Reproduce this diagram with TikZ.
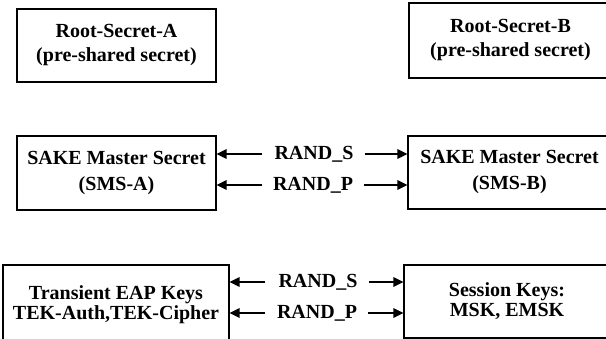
\documentclass[tikz,border=0pt]{standalone}
\usepackage{fontspec}
\setmainfont{Liberation Serif}
\usetikzlibrary{arrows.meta}
\begin{document}
\begin{tikzpicture}[x=1pt,y=-1pt,
  box/.style={draw,line width=1.1pt,rectangle,inner sep=0pt,align=center,
    font=\fontsize{20}{24}\selectfont\bfseries},
  lab/.style={inner sep=0pt,font=\fontsize{20}{22}\selectfont\bfseries},
  arr/.style={line width=1.2pt,-{Triangle[length=10pt,width=9.5pt]}}]
\useasboundingbox (0,0) rectangle (606,339);
\node[box,minimum width=199pt,minimum height=73pt] (rootA) at (116.5,45.5)
  {Root-Secret-A\\(pre-shared secret)};
\node[box,minimum width=203pt,minimum height=75pt] (rootB) at (510.5,40.5)
  {Root-Secret-B\\(pre-shared secret)};
\node[box,minimum width=199pt,minimum height=74pt] (smsA) at (116.5,173)
  {SAKE Master Secret\\[2pt](SMS-A)};
\node[box,minimum width=203pt,minimum height=73pt] (smsB) at (509.5,172.5)
  {SAKE Master Secret\\[2pt](SMS-B)};
\node[box,minimum width=226pt,minimum height=80pt] (tekA) at (116,305)
  {Transient EAP Keys\\[-4pt]TEK-Auth,TEK-Cipher};
\node[box,minimum width=206pt,minimum height=73pt] (sess) at (507,301.5)
  {Session Keys:\\[-4pt]MSK, EMSK};
% middle row labels
\node[lab] (ms) at (314,154) {RAND\_S};
\node[lab] (mp) at (313,185) {RAND\_P};
\draw[arr] ([xshift=-12pt]ms.west) -- (ms.west -| smsA.east);
\draw[arr] ([xshift=11pt]ms.east) -- (ms.east -| smsB.west);
\draw[arr] ([xshift=-11pt]mp.west) -- (mp.west -| smsA.east);
\draw[arr] ([xshift=11pt]mp.east) -- (mp.east -| smsB.west);
% bottom row labels
\node[lab] (bs) at (318,282) {RAND\_S};
\node[lab] (bp) at (317,313) {RAND\_P};
\draw[arr] ([xshift=-13pt]bs.west) -- (bs.west -| tekA.east);
\draw[arr] ([xshift=11pt]bs.east) -- (bs.east -| sess.west);
\draw[arr] ([xshift=-12pt]bp.west) -- (bp.west -| tekA.east);
\draw[arr] ([xshift=11pt]bp.east) -- (bp.east -| sess.west);
\end{tikzpicture}
\end{document}
